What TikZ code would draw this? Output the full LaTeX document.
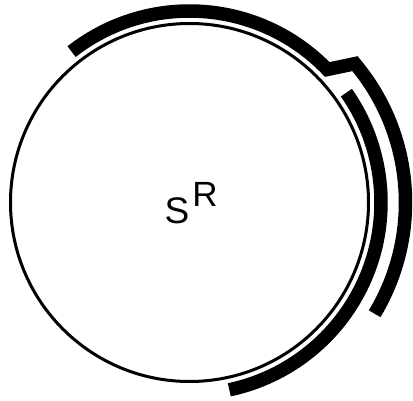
\documentclass[tikz,border=0pt]{standalone}
\usepackage{fontspec}
\setmainfont{Liberation Sans}
\begin{document}
\begin{tikzpicture}[x=1pt, y=1pt,
  ring/.style={line width=3pt},
  band/.style={line width=13.5pt, line join=miter}
]
  \useasboundingbox (0,0) rectangle (413,400);
  \coordinate (c) at (189.5,197.5);

  % circle
  \draw[ring] (c) circle (179);

  % outer band: over the top, then stepping out down the right side
  \draw[band] ([shift={(128:191.5)}]c) arc[start angle=128, end angle=44, radius=191.5]
    -- ([shift={(40:216)}]c) arc[start angle=40, end angle=-31, radius=216];

  % inner band
  \draw[band] ([shift={(35:191.5)}]c) arc[start angle=35, end angle=-78, radius=191.5];

  % label
  \node[anchor=base west, inner sep=0] (lbl) at (164.5,177)
    {\fontsize{37}{37}\selectfont S\kern3pt\raisebox{16pt}{\fontsize{35}{35}\selectfont R}};
\end{tikzpicture}
\end{document}
